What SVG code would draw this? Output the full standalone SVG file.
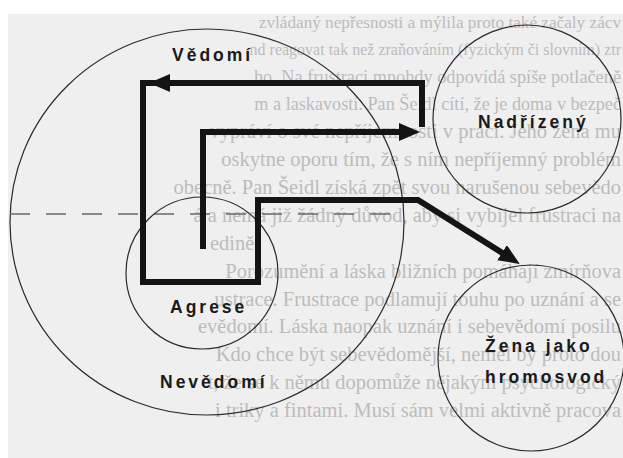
<svg xmlns="http://www.w3.org/2000/svg" width="623" height="458" viewBox="0 0 623 458">
  <defs>
    <style>
      .page { fill: #efefef; }
      .bleed { font-family: "Liberation Serif", "Times New Roman", serif; font-size: 20.5px; fill: #bcbcbc; text-anchor: end; }
      .bleed-s { font-family: "Liberation Serif", "Times New Roman", serif; font-size: 20.5px; fill: #bcbcbc; }
      .ring { fill: none; stroke: #2a2a2a; stroke-width: 1.2; }
      .flow { fill: none; stroke: #141414; stroke-width: 6; stroke-linejoin: miter; stroke-linecap: butt; }
      .divider { fill: none; stroke: #6a6a6a; stroke-width: 1.3; stroke-dasharray: 20 16; }
      .label { font-family: "Liberation Sans", Arial, sans-serif; font-weight: bold; font-size: 17.5px; letter-spacing: 3px; fill: #1a1a1a; }
    </style>
    <marker id="head" viewBox="0 0 21 18" refX="2" refY="9" markerWidth="21" markerHeight="18" markerUnits="userSpaceOnUse" orient="auto">
      <path d="M0,0 L21,9 L0,18 Z" fill="#141414"/>
    </marker>
    <clipPath id="pageClip"><rect x="8" y="14" width="615" height="444"/></clipPath>
  </defs>

  <rect x="0" y="0" width="623" height="458" fill="#ffffff"/>
  <rect class="page" x="8" y="14" width="615" height="444"/>

  <g id="page-text" clip-path="url(#pageClip)">
    <text class="bleed" x="621" y="28" style="font-size:17.2px">zvládaný nepřesnosti a mýlila proto také začaly zácv</text>
    <text class="bleed" x="621" y="55" style="font-size:16px">nd reagovat tak než zraňováním (fyzickým či slovním) ztr</text>
    <text class="bleed" x="621" y="83" style="font-size:18.3px">ho. Na frustraci mnohdy odpovídá spíše potlačeně</text>
    <text class="bleed" x="621" y="110" style="font-size:18.2px">m a laskavostí. Pan Šeidl cítí, že je doma v bezpeč</text>
    <text class="bleed" x="621" y="138">vypráví o své nepříjemnosti v práci. Jeho žena mu</text>
    <text class="bleed" x="621" y="166">oskytne oporu tím, že s ním nepříjemný problém</text>
    <text class="bleed" x="621" y="194">obecně. Pan Šeidl získá zpět svou narušenou sebevědo</text>
    <text class="bleed" x="621" y="222">á a nemá již žádný důvod, aby si vybíjel frustraci na</text>
    <text class="bleed-s" x="210" y="250">edině.</text>
    <text class="bleed" x="621" y="278">Porozumění a láska bližních pomáhají zmírňova</text>
    <text class="bleed" x="621" y="306">ustrace. Frustrace podlamují touhu po uznání a se</text>
    <text class="bleed" x="621" y="333">evědomí. Láska naopak uznání i sebevědomí posilu</text>
    <text class="bleed" x="621" y="361">Kdo chce být sebevědomější, neměl by proto dou</text>
    <text class="bleed" x="621" y="389">t, že se k němu dopomůže nějakým psychologický</text>
    <text class="bleed" x="621" y="417">i triky a fintami. Musí sám velmi aktivně pracova</text>
  </g>

  <g id="psyche">
    <ellipse class="ring" cx="207" cy="222" rx="197" ry="193"/>
    <text class="label" x="172" y="61">Vědomí</text>
    <text class="label" x="160" y="388">Nevědomí</text>
  </g>
  <line class="divider" x1="10" y1="214" x2="402" y2="214"/>

  <g id="agrese">
    <circle class="ring" cx="202" cy="273" r="76"/>
    <text class="label" x="170" y="313">Agrese</text>
  </g>

  <g id="nadrizeny">
    <circle class="ring" cx="527" cy="119" r="94"/>
    <text class="label" x="478" y="128">Nadřízený</text>
  </g>

  <g id="zena">
    <circle class="ring" cx="531" cy="358" r="93"/>
    <text class="label" x="485" y="352">Žena jako</text>
    <text class="label" x="485" y="383">hromosvod</text>
  </g>

  <g id="connectors">
    <path class="flow" d="M203 249 V132 H401" marker-end="url(#head)"/>
    <path class="flow" d="M422 127 V83 H143 V282 H258 V200 H418 L503.7 253.8" marker-end="url(#head)"/>
    <path class="flow" d="M174 83 H168" marker-end="url(#head)"/>
  </g>
</svg>
